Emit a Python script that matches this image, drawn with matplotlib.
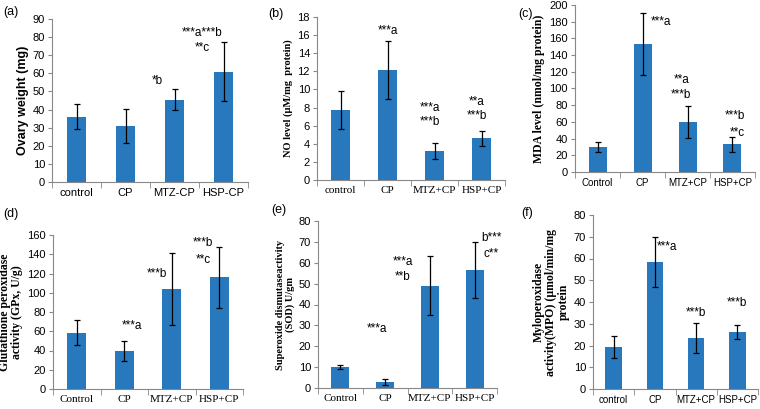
import matplotlib
matplotlib.use("Agg")
import matplotlib.pyplot as plt
import numpy as np

# dati
groups_a = ["control", "CP", "MTZ-CP", "HSP-CP"]
groups_b = ["control", "CP", "MTZ+CP", "HSP+CP"]
groups_c = ["Control", "CP", "MTZ+CP", "HSP+CP"]

ovary = [36, 31, 45.5, 61]
ovary_err = [7, 9.3, 6, 16.5]
no_level = [7.7, 12.1, 3.2, 4.6]
no_err = [2.1, 3.2, 0.85, 0.8]
mda = [30, 153, 60, 33]
mda_err = [6.5, 37, 19, 9.5]
gpx = [58.5, 39.5, 104, 116]
gpx_err = [13, 10, 37, 32]
sod = [10.2, 3.0, 49, 56.5]
sod_err = [0.9, 1.4, 14, 13.5]
mpo = [19.3, 58.5, 23.5, 26]
mpo_err = [5.2, 11.5, 7, 3.2]

# annotazioni: (indice barra, testo, y, dx)
notes_a = [(2, "*b", 56, -0.36), (3, "***a***b", 82, -0.43), (3, "**c", 74, -0.43)]
notes_b = [(1, "***a", 16.4, 0), (2, "***a", 7.9, -0.1), (2, "***b", 6.4, -0.1),
           (3, "**a", 8.6, -0.1), (3, "***b", 7.1, -0.1)]
notes_c = [(1, "***a", 180, 0.4), (2, "**a", 110, -0.12), (2, "***b", 92, -0.15),
           (3, "***b", 67, 0.05), (3, "**c", 47, 0.1)]
notes_d = [(1, "***a", 65, 0.17), (2, "***b", 119, -0.32), (3, "***b", 152, -0.34),
           (3, "**c", 134, -0.34)]
notes_e = [(1, "***a", 28.5, -0.18), (2, "***a", 60.5, -0.6), (2, "**b", 53, -0.6),
           (3, "b***", 72, 0.37), (3, "c**", 64, 0.37)]
notes_f = [(1, "***a", 65.5, 0.3), (2, "***b", 35, 0), (3, "***b", 39.5, 0)]

blue = "#2878bd"
W, H = 760, 409
fig = plt.figure(figsize=(7.6, 4.09), dpi=100)

sans = ["Liberation Sans"]
serif = ["Liberation Serif"]


def pannello(box, vals, errs, labels, ymax, step, ylabel, notes, tag, tagpos,
             tickfont, ticksize, labfont, labsize):
    x0, ytop, x1, ybot = box
    ax = fig.add_axes([x0 / W, 1 - ybot / H, (x1 - x0) / W, (ybot - ytop) / H])
    x = np.arange(len(vals))
    ax.bar(x, vals, width=0.4, color=blue, yerr=errs, capsize=2.5,
           error_kw=dict(elinewidth=0.9, capthick=0.9, ecolor="black"))
    ax.set_xlim(-0.5, 3.5)
    ax.set_ylim(0, ymax)
    ax.set_yticks(np.arange(0, ymax + 0.01, step))
    ax.set_xticks(x)
    ax.set_xticklabels(labels, family=tickfont, fontsize=ticksize)
    for t in ax.get_yticklabels():
        t.set_family(sans)
        t.set_fontsize(8)
    ax.set_xticks(np.arange(-0.5, 4, 1), minor=True)
    ax.tick_params(axis="x", which="major", length=0, pad=4)
    ax.tick_params(axis="x", which="minor", length=4, color="#888888")
    ax.tick_params(axis="y", length=3, color="#888888", pad=2)
    for s in ["top", "right"]:
        ax.spines[s].set_visible(False)
    for s in ["left", "bottom"]:
        ax.spines[s].set_color("#888888")
    ax.set_ylabel(ylabel, family=labfont, fontweight="bold", fontsize=labsize,
                  linespacing=1.05, labelpad=3)
    for i, txt, y, dx in notes:
        ax.text(i + dx, y, txt, ha="center", va="center", fontsize=8.5,
                family=sans)
    fig.text(tagpos[0] / W, 1 - tagpos[1] / H, tag, fontsize=9, va="center",
             family=sans)
    return ax


pannello((52, 19, 248, 182), ovary, ovary_err, groups_a, 90, 10,
         "Ovary weight (mg)", notes_a, "(a)", (3, 12), sans, 8, sans, 9)
pannello((317, 17, 505, 180), no_level, no_err, groups_b, 18, 2,
         "NO level (\u00b5M/mg  protein)", notes_b, "(b)", (268, 14),
         serif, 8, serif, 7.5)
pannello((575, 5, 755, 172), mda, mda_err, groups_c, 200, 20,
         "MDA level (nmol/mg protein)", notes_c, "(c)", (518, 14),
         sans, 7, serif, 8.5)
pannello((53, 235, 243, 389), gpx, gpx_err, groups_c, 160, 20,
         "Glutathione peroxidase\nactivity (GPx, U/g)", notes_d, "(d)", (3, 214),
         serif, 8, serif, 8.5)
pannello((318, 221, 497, 388), sod, sod_err, groups_c, 80, 10,
         "Superoxide dismutaseactivity\n(SOD) U/gm", notes_e, "(e)", (271, 210),
         serif, 8, serif, 7.5)
pannello((593, 215, 758, 389), mpo, mpo_err, groups_b, 80, 10,
         "Myloperoxidase\nactivity(MPO) (\u00b5mol/min/mg\nprotein", notes_f, "(f)", (521, 213),
         sans, 7, serif, 8.5)

fig.savefig("out.png", dpi=100)
